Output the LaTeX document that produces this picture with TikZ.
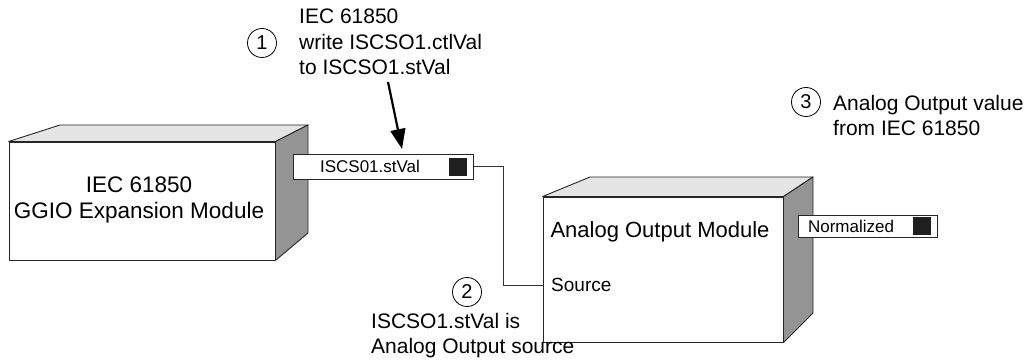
\documentclass[tikz,border=0pt]{standalone}
\usepackage{fontspec}
\setmainfont{Liberation Sans}
\usetikzlibrary{arrows.meta}
\begin{document}
\begin{tikzpicture}[x=1pt,y=-1pt,
  face/.style={draw=black!85, line width=0.9pt, line join=round},
  frontface/.style={face, fill=white, rectangle, inner sep=0pt},
  topface/.style={face, fill=black!10},
  sideface/.style={face, fill=black!42},
  portbox/.style={draw=black!85, line width=0.9pt, fill=white, rectangle, inner sep=0pt},
  porttext/.style={font=\fontsize{17}{20}\selectfont, inner sep=0pt},
  sq/.style={fill=black!88, draw=black!88, minimum size=17pt, inner sep=0pt},
  lbl/.style={font=\fontsize{21}{25.5}\selectfont, inner sep=0pt, align=left},
  num/.style={circle, draw=black, line width=0.8pt, minimum size=29pt, inner sep=0pt, font=\fontsize{20}{24}\selectfont},
  wire/.style={draw=black!80, line width=0.9pt},
  pointer/.style={line width=2.2pt, -{Triangle[length=20pt,width=15pt]}}
]
\useasboundingbox (0,0) rectangle (1030,363);

% left module
\node[frontface, minimum width=266pt, minimum height=118pt] (ggio) at (142,201) {};
\path[topface] (ggio.north west) -- (60,125) -- (308,125) -- (ggio.north east) -- cycle;
\path[sideface] (ggio.north east) -- (308,125) -- (308,233) -- (ggio.south east) -- cycle;
\node[lbl, align=center, font=\fontsize{22.5}{26}\selectfont] (ggiot) at (139,200) {IEC 61850\\GGIO Expansion Module};

% port 1
\node[portbox, minimum width=180pt, minimum height=25pt] (p1) at (383,166.5) {};
\node[porttext] (p1t) at (370,166.5) {ISCS01.stVal};
\node[sq] (p1s) at (458,167) {};

% right module
\node[frontface, minimum width=240pt, minimum height=145pt] (aom) at (663,269.5) {};
\path[topface] (aom.north west) -- (590,177) -- (813,177) -- (aom.north east) -- cycle;
\path[sideface] (aom.north east) -- (813,177) -- (813,313) -- (aom.south east) -- cycle;
\node[lbl, font=\fontsize{22}{26}\selectfont] (aomt) at (660,232) {Analog Output Module};
\node[lbl, anchor=west, font=\fontsize{19}{22}\selectfont] (src) at (551,285) {Source};

% port 2
\node[portbox, minimum width=139pt, minimum height=22pt] (p2) at (867.5,226) {};
\node[porttext] (p2t) at (851,226) {Normalized};
\node[sq] (p2s) at (921.5,225.5) {};

% wire
\coordinate (w1) at (503,166.5);
\draw[wire] (p1.east) -- (w1) |- (aom.west |- src.west);

% callouts
\node[num] (n1) at (262,43) {1};
\node[lbl, anchor=north west] (t1) at (299,9) {IEC 61850\\write ISCSO1.ctlVal\\to ISCSO1.stVal};
\coordinate (a0) at (388,82);
\coordinate (a1) at (402,149);
\draw[pointer] (a0) -- (a1);

\node[num] (n2) at (467,292) {2};
\node[lbl, anchor=north west] (t2) at (371,313) {ISCSO1.stVal is\\Analog Output source};

\node[num] (n3) at (806,102) {3};
\node[lbl, anchor=north west] (t3) at (833,95) {Analog Output value\\from IEC 61850};
\end{tikzpicture}
\end{document}
